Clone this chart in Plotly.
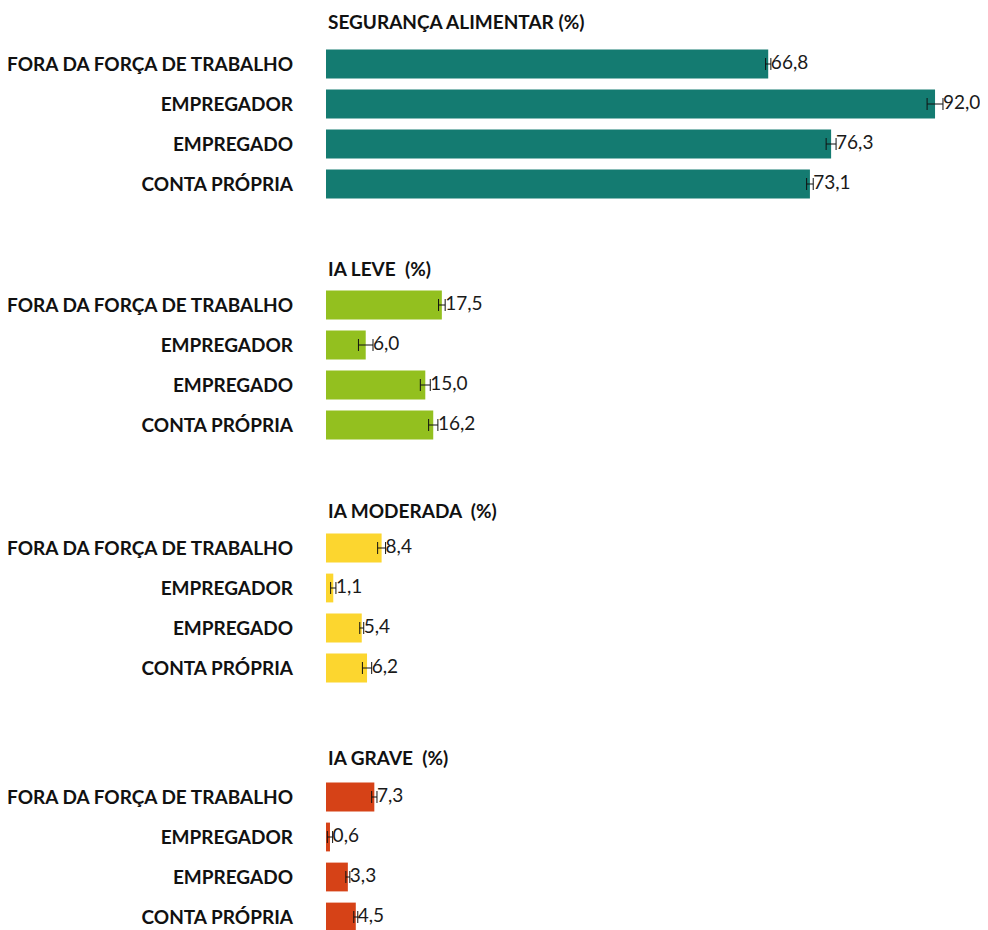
import plotly.graph_objects as go
from plotly.subplots import make_subplots

categories = ["FORA DA FORÇA DE TRABALHO", "EMPREGADOR", "EMPREGADO", "CONTA PRÓPRIA"]
titles = ["SEGURANÇA ALIMENTAR (%)", "IA LEVE  (%)", "IA MODERADA  (%)", "IA GRAVE  (%)"]

seguranca = [66.8, 92.0, 76.3, 73.1]
ia_leve = [17.5, 6.0, 15.0, 16.2]
ia_moderada = [8.4, 1.1, 5.4, 6.2]
ia_grave = [7.3, 0.6, 3.3, 4.5]

err_seguranca = [0.4, 1.2, 0.75, 0.5]
err_leve = [0.5, 1.1, 0.75, 0.7]
err_moderada = [0.6, 0.4, 0.3, 0.7]
err_grave = [0.4, 0.4, 0.3, 0.3]

colors = ["#147B71", "#93C01F", "#FCD62F", "#D64217"]
values = [seguranca, ia_leve, ia_moderada, ia_grave]
errors = [err_seguranca, err_leve, err_moderada, err_grave]

def fmt(v):
    return f"{v:.1f}".replace(".", ",")

FONT = "Lato, sans-serif"
W, H = 980, 922  # page body has an 8px margin
OFF = 8
fig = make_subplots(rows=4, cols=1)

# pixel positions (top, bottom) of each panel in the screenshot
panels = [(44, 204), (285, 446), (528, 689), (777, 930)]
title_y = [22, 268, 511, 757]

for i in range(4):
    r = i + 1
    fig.add_trace(go.Bar(
        x=values[i], y=categories, orientation="h",
        marker=dict(color=colors[i], line=dict(width=0)),
        width=0.72,
        error_x=dict(type="data", array=errors[i], visible=True,
                     color="#111111", thickness=1, width=6),
        hoverinfo="x+y", showlegend=False,
    ), row=r, col=1)
    fig.add_trace(go.Scatter(
        x=[v + e for v, e in zip(values[i], errors[i])], y=categories,
        mode="text", text=[fmt(v) for v in values[i]],
        textposition="middle right",
        textfont=dict(family=FONT, size=19, color="#1a1a1a"),
        cliponaxis=False, showlegend=False, hoverinfo="skip",
    ), row=r, col=1)
    top, bot = panels[i]
    top -= OFF
    bot -= OFF
    d0 = max(0.0, 1 - bot / H)
    d1 = 1 - top / H
    yaxis = "yaxis" if r == 1 else f"yaxis{r}"
    xaxis = "xaxis" if r == 1 else f"xaxis{r}"
    span = (bot - top) / 40.0
    fig.layout[yaxis].update(domain=[d0, d1], range=[-0.5 + span, -0.5],
                             type="category", showgrid=False, zeroline=False,
                             showline=False, ticks="", ticklabelstandoff=32,
                             tickfont=dict(family=FONT, size=19, color="#111111", weight="bold"))
    fig.layout[xaxis].update(range=[0, 100], visible=False, showgrid=False, zeroline=False)
    fig.add_annotation(text=f"<b>{titles[i]}</b>", xref="paper", yref="paper",
                       x=0, y=1 - (title_y[i] - OFF) / H, xanchor="left", yanchor="middle",
                       showarrow=False,
                       font=dict(family=FONT, size=19, color="#111111"))

fig.update_layout(width=W, height=H, margin=dict(l=318, r=0, t=0, b=0),
                  plot_bgcolor="white", paper_bgcolor="white", bargap=0.28)

fig.write_html("out.html")
